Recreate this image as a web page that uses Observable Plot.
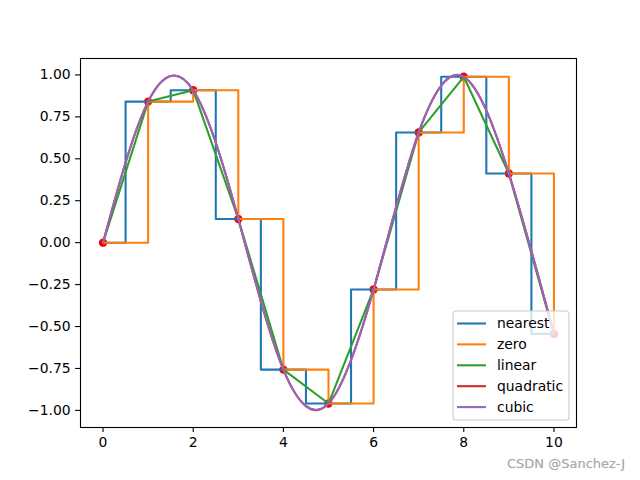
<!DOCTYPE html>
<html>
<head>
<meta charset="utf-8">
<script src="https://cdn.jsdelivr.net/npm/d3@7"></script>
<script src="https://cdn.jsdelivr.net/npm/@observablehq/plot@0.6"></script>
<style>
  html, body { margin: 0; padding: 0; background: #fff; }
  #wrap { position: relative; width: 640px; height: 480px; }
  #wm { position: absolute; left: 507px; top: 456px; font-family: "DejaVu Sans", sans-serif; font-size: 13px; color: #a8a8a8; text-shadow: 0 0 1px #ddd; white-space: nowrap; }
</style>
</head>
<body>
<div id="wrap"><div id="wm">CSDN @Sanchez-J</div></div>
<script>
const xs = [0, 1, 2, 3, 4, 5, 6, 7, 8, 9, 10];
const ys = [0, 0.841, 0.909, 0.141, -0.757, -0.959, -0.279, 0.657, 0.989, 0.412, -0.544];
const kinds = ["nearest", "zero", "linear", "quadratic", "cubic"];
const kindCurves = ["step", "step-after", "linear", "natural", "natural"];
const colors = ["#1f77b4", "#ff7f0e", "#2ca02c", "#d62728", "#9467bd"];
const xTicks = [0, 2, 4, 6, 8, 10];
const yTicks = [-1, -0.75, -0.5, -0.25, 0, 0.25, 0.5, 0.75, 1];

const pts = xs.map((x, i) => ({x, y: ys[i]}));

const lineMarks = kinds.map((k, i) =>
  Plot.line(pts, {x: "x", y: "y", stroke: colors[i], strokeWidth: 2.08, curve: kindCurves[i]})
);

const chart = Plot.plot({
  width: 640,
  height: 480,
  marginLeft: 80,
  marginRight: 64,
  marginTop: 58,
  marginBottom: 53,
  style: {fontFamily: "DejaVu Sans", fontSize: "13.9px", background: "#fff", color: "#000"},
  x: {domain: [-0.5, 10.5]},
  y: {domain: [-1.102, 1.098]},
  marks: [
    Plot.dot(pts, {x: "x", y: "y", r: 4.2, fill: "red", stroke: "none"}),
    ...lineMarks,
    Plot.frame({stroke: "#000", strokeWidth: 1.1}),
    Plot.axisX({ticks: xTicks, tickSize: 4.9, tickPadding: 4.9, tickFormat: d3.format("d"), label: null, strokeWidth: 1.1, fontSize: 13.9}),
    Plot.axisY({ticks: yTicks, tickSize: 4.9, tickPadding: 4.9, tickFormat: d3.format(".2f"), label: null, strokeWidth: 1.1, fontSize: 13.9})
  ]
});

document.getElementById("wrap").prepend(chart);

// legend (lower right inside axes)
const svg = d3.select(chart);
const lg = svg.append("g").attr("font-family", "DejaVu Sans").attr("font-size", "13.9px").attr("text-anchor", "start");
const lx = 453, ly = 311, lw = 116, lh = 109;
lg.append("rect").attr("x", lx).attr("y", ly).attr("width", lw).attr("height", lh)
  .attr("rx", 3).attr("fill", "#fff").attr("fill-opacity", 0.8).attr("stroke", "#cccccc").attr("stroke-width", 1.1);
kinds.forEach((k, i) => {
  const yy = ly + 12.5 + i * 20.9;
  lg.append("line").attr("x1", lx + 4).attr("x2", lx + 33).attr("y1", yy).attr("y2", yy)
    .attr("stroke", colors[i]).attr("stroke-width", 2.08);
  lg.append("text").attr("x", lx + 44).attr("y", yy).attr("dy", "0.35em").attr("fill", "#000").attr("text-anchor", "start").text(k);
});
</script>
</body>
</html>
